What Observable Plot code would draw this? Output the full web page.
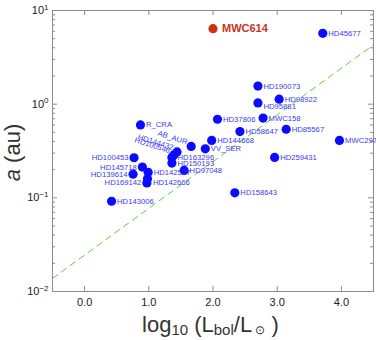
<!DOCTYPE html>
<html><head><meta charset="utf-8">
<script src="https://cdn.jsdelivr.net/npm/d3@7"></script>
<script src="https://cdn.jsdelivr.net/npm/@observablehq/plot@0.6"></script>
<style>
body{margin:0;background:#fff}
#chart svg{font-family:"Liberation Sans",Arial,sans-serif;background:#fff}
</style>
</head><body><div id="chart"></div>
<script>
// ---- data ----
const names = ["MWC614","HD45677","HD190073","HD98922","HD95881","HD37806","MWC158","HD58647","HD85567",
  "HD144668","MWC297","VV_SER","AB_AUR","HD259431","HD158643","HD97048","HD144432","HD100546","HD163296",
  "HD150193","R_CRA","HD100453","HD145718","HD139614","HD142527","HD142666","HD169142","HD143006"];
const logL = [2.00,3.71,2.70,3.03,2.70,2.07,2.78,2.42,3.14,
  1.98,3.97,1.88,1.66,2.96,2.34,1.55,1.44,1.39,1.36,
  1.36,0.87,0.77,0.90,0.755,0.99,0.98,0.97,0.42];
const sepAU = [6.4,5.7,1.56,1.13,1.03,0.69,0.71,0.51,0.54,
  0.41,0.41,0.334,0.354,0.27,0.113,0.196,0.309,0.287,0.270,
  0.235,0.60,0.268,0.213,0.179,0.187,0.160,0.144,0.092];
const highlight = "MWC614";
const fitLogL = [-0.5, 4.5];
const fitA = [0.0138, 4.3];
const xTicks = [0,1,2,3,4];
const yTicks = [0.01,0.1,1,10];

// label placement groups (which side each name is written on)
const tiltedLabels = ["AB_AUR","HD144432","HD100546"];
const leftLabels = ["HD100453","HD145718","HD139614","HD169142"];
const lowLabels = ["HD95881","HD142666"];

// ---- build ----
const stars = names.map((n,i)=>({name:n, x:logL[i], a:sepAU[i]}));
const tilted = new Set(tiltedLabels), left = new Set(leftLabels), low = new Set(lowLabels);
const blueStars = stars.filter(d=>d.name!==highlight);
const redStars = stars.filter(d=>d.name===highlight);
const rightStd = blueStars.filter(d=>!tilted.has(d.name)&&!left.has(d.name)&&!low.has(d.name));
const rightLow = blueStars.filter(d=>low.has(d.name));
const leftSide = blueStars.filter(d=>left.has(d.name));
const tiltSide = blueStars.filter(d=>tilted.has(d.name));
const fit = fitLogL.map((x,i)=>({x, a:fitA[i]}));
const yMinor = [];
for (const dec of [0.01,0.1,1]) for (let k=2;k<=9;k++) yMinor.push(+(dec*k).toPrecision(3));

const W=376,H=340,mL=52,mR=3,mT=10,mB=49;
const fw=W-mL-mR, fh=H-mT-mB;
const frameCol="#8c8c8c";
const labCol="#3a3af0", fs=7.7;

const chart = Plot.plot({
  width:W, height:H, marginLeft:mL, marginRight:mR, marginTop:mT, marginBottom:mB,
  x:{domain:[-0.5,4.5]},
  y:{type:"log", domain:[0.01,10]},
  style:{fontFamily:"Liberation Sans, Arial, sans-serif"},
  marks:[
    Plot.line(fit,{x:"x",y:"a",stroke:"#5ccf38",strokeWidth:1,strokeDasharray:"6,5"}),
    // inward ticks
    Plot.tickX(xTicks,{x:d=>d,stroke:frameCol,insetTop:fh-5}),
    Plot.tickX(xTicks,{x:d=>d,stroke:frameCol,insetBottom:fh-5}),
    Plot.tickY(yTicks,{y:d=>d,stroke:frameCol,insetRight:fw-5}),
    Plot.tickY(yTicks,{y:d=>d,stroke:frameCol,insetLeft:fw-5}),
    Plot.tickY(yMinor,{y:d=>d,stroke:frameCol,insetRight:fw-3}),
    Plot.tickY(yMinor,{y:d=>d,stroke:frameCol,insetLeft:fw-3}),
    Plot.frame({stroke:frameCol}),
    Plot.axisX({ticks:xTicks,tickSize:0,tickPadding:7,fontSize:11,label:null,fill:"#222"}),
    Plot.axisY({ticks:yTicks,tickSize:0,tickPadding:4,fontSize:11,label:null,fill:"#222",
      tickFormat:d=>"10^"+Math.round(Math.log10(d))}),
    Plot.dot(blueStars,{x:"x",y:"a",r:4.6,fill:"#0b0bff",stroke:"none"}),
    Plot.dot(redStars,{x:"x",y:"a",r:4.6,fill:"#cc3311",stroke:"none"}),
    Plot.text(rightStd,{x:"x",y:"a",text:"name",textAnchor:"start",dx:5.5,fontSize:fs,fill:labCol}),
    Plot.text(rightLow,{x:"x",y:"a",text:"name",textAnchor:"start",dx:5.5,dy:3.5,fontSize:fs,fill:labCol}),
    Plot.text(leftSide,{x:"x",y:"a",text:"name",textAnchor:"end",dx:-5.5,fontSize:fs,fill:labCol}),
    Plot.text(tiltSide,{x:"x",y:"a",text:"name",textAnchor:"end",rotate:18,dx:-4,dy:-4,fontSize:fs,fill:labCol}),
    Plot.text(redStars,{x:"x",y:"a",text:"name",textAnchor:"start",dx:9,fontSize:11,fontWeight:"bold",fill:"#c8341a"})
  ]
});
document.getElementById("chart").appendChild(chart);

const svg = d3.select(chart);
// superscript exponents on the y tick labels
svg.selectAll("g[aria-label='y-axis tick label'] text").each(function(){
  const t=d3.select(this), s=t.text();
  if(!s.includes("^")) return;
  const [b,e]=s.split("^");
  t.text(b);
  t.append("tspan").attr("dy","-0.55em").attr("font-size","8px").text(e.replace("-","\u2212"));
});
// y label
const yl = svg.append("text").attr("transform",`translate(20,${mT+fh/2+2}) rotate(-90)`)
  .attr("text-anchor","middle").attr("font-size",22).attr("fill","#333");
yl.append("tspan").attr("font-style","italic").text("a");
yl.append("tspan").text(" (au)");
// x label
const xl = svg.append("text").attr("x",mL+fw/2-2).attr("y",332).attr("text-anchor","middle")
  .attr("font-size",22).attr("fill","#333");
xl.append("tspan").text("log");
xl.append("tspan").attr("font-size",15).attr("dy",3).text("10");
xl.append("tspan").attr("dy",-3).text(" (L");
xl.append("tspan").attr("font-size",15).attr("dy",3).text("bol");
xl.append("tspan").attr("dy",-3).text("/L");
xl.append("tspan").attr("font-size",12).attr("dy",2).text(" \u2299");
xl.append("tspan").attr("dy",-2).text(" )");
</script>
</body></html>
